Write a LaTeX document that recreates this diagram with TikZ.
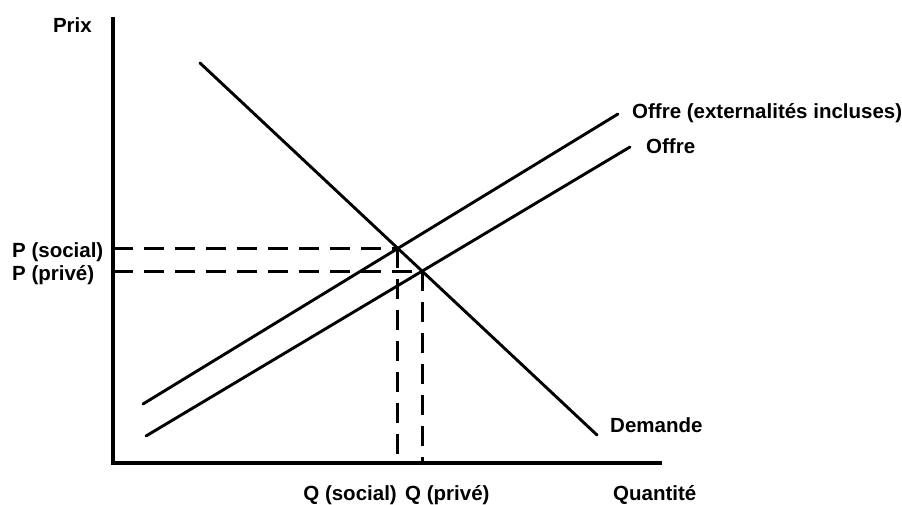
\documentclass[tikz,border=0pt]{standalone}
\usepackage{fontspec}
\setmainfont{Liberation Sans}
\usepackage{tikz}
\usetikzlibrary{positioning, calc, intersections}
\definecolor{mydark}{RGB}{0,0,0}
\tikzset{
  axis/.style={line width=3.2pt, color=mydark},
  curve/.style={line width=2.9pt, color=mydark, line cap=round},
  guide/.style={line width=3pt, color=mydark, dash pattern=on 20pt off 11pt},
  lbl/.style={inner sep=0pt, font=\fontsize{20.5}{24}\selectfont\bfseries, text=mydark}
}

\begin{document}
\begin{tikzpicture}[x=1pt, y=1pt]
  \useasboundingbox (-113,-41) rectangle (789,463);
  % axes
  \coordinate (O) at (0,0);
  \coordinate (ytop) at (0,446);
  \coordinate (xend) at (549,0);
  \draw[axis] (ytop) -- (O) -- (xend);

  % demand and the two supply lines
  \coordinate (d1) at (87,400);
  \coordinate (d2) at (484,28);
  \coordinate (se1) at (30,59);
  \coordinate (se2) at (505,349);
  \coordinate (s1) at (33,27);
  \coordinate (s2) at (517,316);
  \draw[curve, name path=demand] (d1) -- (d2);
  \draw[curve, name path=socsup] (se1) -- (se2);
  \draw[curve, name path=privsup] (s1) -- (s2);

  % equilibria
  \path[name intersections={of=demand and socsup, by=eqs}];
  \path[name intersections={of=demand and privsup, by=eqp}];
  \draw[guide] (O |- eqs) -- (eqs);
  \draw[guide] (eqs) -- (eqs |- O);
  \draw[guide] (O |- eqp) -- (eqp);
  \draw[guide] (eqp) -- (eqp |- O);

  \node[lbl, anchor=base east] (prix) at (-21,430) {Prix};
  \node[lbl, anchor=base west] (psoc) at (-101,205) {P (social)};
  \node[lbl, anchor=base west] (ppriv) at (-101,183) {P (privé)};
  \node[lbl, anchor=base east] (qsoc) at (284,-37.5) {Q (social)};
  \node[lbl, anchor=base west] (qpriv) at (292,-37.5) {Q (privé)};
  \node[lbl, anchor=base west] (qty) at (500,-37.5) {Quantité};
  \node[lbl, anchor=base west] (lse) at (519,344) {Offre (externalités incluses)};
  \node[lbl, anchor=base west] (ls) at (533,309) {Offre};
  \node[lbl, anchor=base west] (ld) at (497,31) {Demande};
\end{tikzpicture}
\end{document}
